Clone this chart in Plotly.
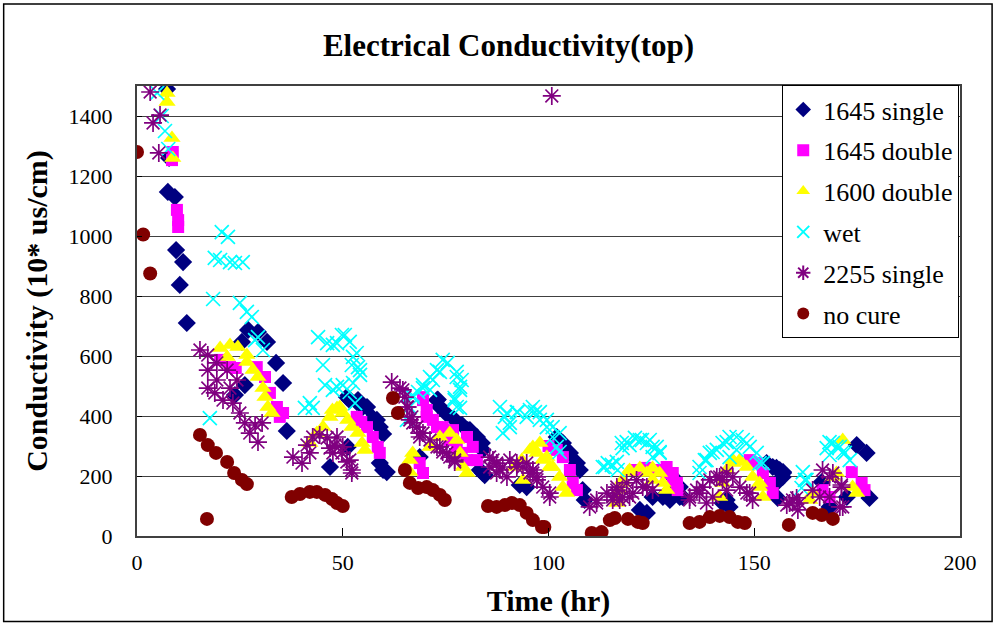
import plotly.graph_objects as go

# ---------------- data (time hr, conductivity 10*us/cm) ----------------
s1645_single_x = [7.3, 7.8, 7.5, 9.2, 9.5, 11.2, 10.4, 12.1, 23.8, 26.2, 25.5, 27.0, 29.4, 31.6, 33.8, 35.5, 36.4,
                  46.9, 51.0, 51.2, 51.7, 53.4, 53.7, 54.9, 55.9, 57.3, 58.3, 59.0, 59.8, 59.0, 59.8, 60.7,
                  68.7, 72.9, 73.1, 73.6, 75.0, 77.0, 79.0, 80.4, 80.9, 81.6, 82.6, 82.8, 83.8, 84.0, 83.3, 84.0, 84.5,
                  93.0, 94.7, 101.0, 102.0, 103.5, 105.2, 106.9, 107.6, 108.3, 108.8,
                  122.2, 123.9, 125.3, 127.8, 129.5, 130.2, 130.2, 131.9, 131.9, 132.6,
                  142.3, 143.3, 144.0, 153.0, 154.5, 155.4, 156.2, 157.0, 156.9, 155.4, 155.7,
                  157.0, 166.4, 168.3, 172.5, 174.9, 177.3, 178.0]
s1645_single_y = [1490, 1260, 1147, 1130, 953, 913, 837, 710, 470, 503, 647, 687, 680, 647, 577, 510, 350,
                  230, 463, 297, 453, 447, 453, 430, 430, 393, 387, 363, 340, 243, 220, 213,
                  263, 453, 455, 430, 410, 390, 370, 353, 353, 330, 330, 310, 310, 287, 220, 210, 203,
                  170, 163, 303, 330, 310, 277, 243, 220, 153, 120,
                  87, 77, 130, 130, 120, 197, 153, 163, 130, 130,
                  110, 120, 97, 243, 230, 227, 220, 213, 197, 177, 127,
                  210, 180, 97, 130, 303, 277, 127]

s1645_double_x = [8.5, 8.7, 9.7, 10.0, 10.0, 20.2, 22.6, 24.0, 29.1, 31.1, 32.3, 34.0, 34.7, 35.5,
                  53.4, 54.5, 55.9, 57.3, 58.5, 59.0,
                  68.7, 69.5, 69.5, 69.5, 70.4, 70.4, 71.9, 72.9, 74.3, 74.3, 76.0, 76.8, 77.7, 78.9, 80.2, 80.2, 81.6, 82.6,
                  100.0, 102.0, 103.5, 105.2, 105.9, 106.9,
                  121.0, 123.9, 126.3, 128.7, 128.7, 130.2, 130.2, 131.2, 131.2, 131.4,
                  148.9, 150.6, 152.1, 153.8, 154.5,
                  166.6, 168.3, 173.7, 176.1, 176.8]
s1645_double_y = [1253, 1280, 1087, 1053, 1030, 587, 563, 560, 563, 530, 477, 430, 397, 410,
                  397, 380, 363, 330, 297, 277,
                  243, 210, 463, 453, 420, 397, 387, 363, 363, 343, 320, 353, 297, 277, 330, 253, 297, 253,
                  300, 287, 263, 220, 177, 153,
                  220, 227, 220, 230, 210, 210, 187, 177, 163, 153,
                  253, 243, 210, 177, 143,
                  153, 130, 213, 177, 153]

s1600_double_x = [7.3, 7.3, 8.5, 8.7, 20.2, 21.9, 22.6, 24.5, 26.7, 26.7, 28.2, 29.4, 30.6, 31.1, 31.8, 32.8,
                  42.0, 43.7, 45.2, 46.9, 47.5, 48.6, 49.3, 50.0, 51.2, 52.2, 53.7, 54.7, 55.4,
                  66.3, 66.3, 67.0, 71.2, 73.6, 76.0, 77.7, 78.5, 79.2, 80.2,
                  91.8, 93.5, 93.8, 95.5, 96.2, 97.2, 97.9, 98.6, 99.6, 100.3, 101.0, 102.7, 103.5, 104.4,
                  116.6, 116.6, 117.3, 118.0, 118.0, 119.3, 119.7, 122.2, 123.9, 125.3, 125.3, 127.0, 127.8, 128.7,
                  141.6, 142.3, 143.3, 144.8, 144.8, 146.5, 146.5, 148.2, 149.6, 151.3, 151.3, 152.1,
                  163.5, 164.2, 169.1, 170.0, 171.5, 173.9, 174.9]
s1600_double_y = [1477, 1447, 1327, 1260, 627, 597, 637, 630, 603, 580, 553, 530, 493, 463, 430, 410,
                  310, 343, 363, 397, 420, 427, 430, 410, 387, 363, 343, 310, 287,
                  253, 213, 277, 297, 330, 343, 320, 277, 230, 210,
                  230, 253, 187, 287, 297, 277, 310, 253, 263, 230, 230, 197, 163, 143,
                  110, 120, 153, 177, 187, 213, 220, 227, 210, 187, 227, 210, 177, 153,
                  130, 177, 220, 243, 253, 253, 247, 230, 197, 177, 163, 130,
                  120, 143, 197, 210, 320, 163, 143]

wet_x = [4.9, 6.0, 6.8, 7.6, 17.7, 18.5, 18.9, 20.2, 20.6, 22.1, 22.6, 23.8, 25.7, 25.0, 26.7, 27.9, 28.7, 29.4, 30.6,
         40.8, 42.0, 42.7, 44.0, 45.2, 45.7, 46.2, 47.6, 47.6, 48.6, 48.6, 49.8, 50.5, 50.0, 51.7, 51.7, 52.2, 52.5,
         52.5, 53.0, 53.4, 53.7, 54.2, 54.2,
         65.6, 66.3, 67.0, 67.0, 68.3, 69.5, 69.5, 71.2, 71.2, 71.9, 72.9, 73.6, 74.3, 75.5, 77.7, 77.7, 78.9, 78.5,
         78.5, 77.2, 77.2, 77.7, 78.5,
         88.2, 88.9, 89.4, 89.9, 90.6, 90.6, 92.3, 92.5, 94.7, 95.5, 96.2, 96.7, 97.9, 97.9, 99.6, 99.6, 101.0, 101.0,
         102.0, 102.7, 102.7,
         113.2, 113.7, 114.4, 115.4, 116.6, 116.8, 117.8, 118.0, 119.0, 119.7, 121.0, 122.2, 122.7, 123.9, 124.6,
         125.3, 125.3, 126.3, 127.0, 127.0,
         136.7, 136.7, 138.0, 138.4, 139.2, 139.9, 140.9, 142.3, 143.3, 144.0, 144.0, 145.7, 145.7, 147.2, 148.2,
         148.9, 150.6, 151.3, 152.1,
         161.5, 161.8, 162.3, 162.7, 167.6, 168.3, 168.3, 169.1, 170.0, 170.8, 171.5, 172.0, 173.2]
wet_y = [1477, 1400, 1350, 1290, 393, 790, 927, 920, 1013, 997, 913, 910, 913, 777, 747, 730, 653, 663, 620,
         427, 443, 427, 663, 570, 503, 643, 637, 487, 643, 497, 670, 670, 503, 647, 480, 570, 597,
         510, 443, 610, 563, 553, 537,
         387, 430, 463, 470, 480, 503, 493, 530, 487, 520, 553, 547, 587, 577, 547, 530, 520, 497,
         487, 460, 453, 430, 427,
         430, 343, 397, 410, 377, 363, 413, 413, 397, 420, 430, 413, 413, 387, 387, 363, 363, 330,
         297, 343, 280,
         230, 230, 243, 237, 247, 220, 310, 293, 313, 303, 327, 320, 320, 310, 320,
         297, 263, 297, 280, 277,
         230, 210, 253, 253, 277, 280, 287, 310, 313, 330, 263, 330, 287, 320, 310,
         297, 277, 243, 243,
         160, 213, 187, 187, 293, 313, 270, 310, 297, 297, 280, 277, 253]

s2255_single_x = [3.2, 3.9, 5.3, 5.6, 15.3, 17.2, 17.2, 17.2, 18.9, 19.4, 19.4, 20.9, 21.9, 22.6, 23.3, 24.3, 25.0,
                  26.2, 27.4, 28.7, 29.4, 30.4,
                  37.9, 40.1, 41.3, 42.0, 42.7, 44.4, 46.2, 46.9, 47.6, 48.1, 48.6, 49.8, 50.0, 51.0, 51.7, 52.2, 52.2,
                  61.9, 63.9, 64.6, 65.1, 65.6, 65.8, 66.3, 66.8, 67.0, 68.0, 68.7, 68.7, 69.5, 71.2, 72.9, 73.6, 74.3,
                  75.3, 76.0, 77.2, 77.2,
                  85.7, 85.7, 86.5, 87.4, 87.4, 88.2, 88.9, 89.9, 90.6, 92.3, 92.3, 93.8, 94.7, 95.5, 96.2, 96.2, 97.2,
                  97.2, 98.6, 100.3, 100.3, 100.8,
                  110.0, 111.7, 111.7, 114.2, 115.6, 115.6, 116.6, 116.6, 117.3, 118.0, 119.0, 119.7, 120.5, 121.4,
                  122.9, 123.9, 125.3,
                  134.3, 134.3, 136.0, 136.7, 137.5, 138.4, 139.2, 139.9, 140.9, 141.6, 142.3, 143.3, 143.3, 144.8,
                  146.5, 148.2, 148.9, 149.6,
                  157.9, 158.6, 159.3, 160.3, 160.6, 161.0, 164.2, 165.9, 166.6, 168.3, 168.3, 169.1, 170.8, 171.2,
                  171.2, 171.5]
s2255_single_y = [1480, 1377, 1277, 1403, 620, 603, 553, 493, 477, 577, 520, 453, 553, 493, 443, 520, 410,
                  377, 343, 370, 313, 377,
                  263, 243, 303, 277, 330, 337, 327, 293, 277, 303, 330, 277, 297, 247, 253, 220, 210,
                  513, 493, 487, 463, 430, 430, 387, 397, 377, 363, 343, 330, 343, 320, 297, 297, 280,
                  277, 263, 253, 247,
                  263, 230, 253, 243, 210, 220, 230, 197, 253, 243, 230, 230, 243, 210, 210, 220, 187,
                  197, 163, 143, 130, 1467,
                  97, 120, 110, 143, 130, 120, 163, 153, 120, 130, 177, 130, 143, 187,
                  163, 163, 153,
                  120, 130, 153, 143, 163, 110, 187, 130, 197, 197, 187, 153, 210, 197,
                  163, 143, 143, 120,
                  103, 110, 120, 127, 87, 110, 153, 130, 220, 130, 197, 210, 97, 170,
                  163, 97]

no_cure_x = [0.0, 1.5, 3.2, 15.3, 17.0, 17.2, 19.2, 21.9, 23.6, 25.5, 26.7,
             37.6, 39.6, 42.0, 43.7, 45.7, 47.4, 48.6, 50.0,
             62.2, 63.4, 65.1, 66.3, 68.3, 70.4, 71.9, 73.6, 74.8,
             85.3, 87.4, 89.4, 91.1, 93.0, 94.7, 96.2, 98.4, 99.0,
             110.5, 112.9, 114.9, 116.1, 119.3, 121.7, 122.9,
             134.3, 136.7, 139.2, 141.6, 144.0, 146.0, 147.7,
             158.4, 164.2, 166.4, 169.1]
no_cure_y = [1280, 1005, 875, 337, 57, 303, 277, 247, 210, 187, 173,
             130, 140, 147, 147, 137, 123, 110, 100,
             460, 410, 220, 177, 160, 163, 153, 137, 120,
             100, 97, 103, 110, 103, 77, 53, 30, 30,
             10, 13, 53, 60, 57, 47, 43,
             43, 47, 63, 67, 63, 47, 43,
             37, 77, 70, 57]

x_ticks = [0, 50, 100, 150, 200]
y_ticks = [0, 200, 400, 600, 800, 1000, 1200, 1400]

# ---------------- figure ----------------
FONT = "Liberation Serif, Times New Roman, serif"
fig = go.Figure()

series = [
    ("1645 single", s1645_single_x, s1645_single_y, dict(symbol="diamond", size=14, color="#000080")),
    ("1645 double", s1645_double_x, s1645_double_y, dict(symbol="square", size=12, color="#FF00FF")),
    ("1600 double", s1600_double_x, s1600_double_y, dict(symbol="triangle-up", size=15, color="#FFFF00")),
    ("wet", wet_x, wet_y, dict(symbol="x-thin-open", size=14, color="#00FFFF", line=dict(color="#00FFFF", width=1.7))),
    ("2255 single", s2255_single_x, s2255_single_y, dict(symbol="asterisk-open", size=15, color="#800080", line=dict(color="#800080", width=1.7))),
    ("no cure", no_cure_x, no_cure_y, dict(symbol="circle", size=14, color="#800000")),
]
for name, xs, ys, mk in series:
    fig.add_trace(go.Scatter(x=xs, y=ys, mode="markers", name=name, legendgroup=name, marker=mk))

fig.update_layout(
    width=999, height=627,
    paper_bgcolor="white", plot_bgcolor="white",
    margin=dict(l=137, r=39, t=86, b=91),
    font=dict(family=FONT, color="black"),
    title=dict(text="<b>Electrical Conductivity(top)</b>", x=0.509, xref="container", xanchor="center",
               y=1 - 45 / 627, yref="container", yanchor="middle", font=dict(family=FONT, size=31)),
    legend=dict(x=0.784, y=1.002, xanchor="left", yanchor="top", bgcolor="white",
                bordercolor="black", borderwidth=1, font=dict(family=FONT, size=26),
                tracegroupgap=4, itemsizing="constant"),
    showlegend=True,
)
fig.update_xaxes(range=[0, 200], tickvals=x_ticks, ticks="inside", ticklen=8, tickcolor="black",
                 showline=True, linecolor="#404040", linewidth=2, mirror=True, showgrid=False, zeroline=False,
                 tickfont=dict(family=FONT, size=22), ticklabelstandoff=6,
                 title=dict(text="<b>Time (hr)</b>", font=dict(family=FONT, size=30), standoff=16))
fig.update_yaxes(range=[0, 1500], tickvals=y_ticks, ticks="inside", ticklen=5, tickcolor="black",
                 showline=True, linecolor="#404040", linewidth=2, mirror=True, showgrid=True,
                 gridcolor="#404040", gridwidth=1, zeroline=False,
                 tickfont=dict(family=FONT, size=22), ticklabelstandoff=18,
                 title=dict(text="<b>Conductivity (10* us/cm)</b>", font=dict(family=FONT, size=30), standoff=12))

# outer chart border
fig.add_shape(type="rect", xref="paper", yref="paper", x0=-0.162, x1=1.039, y0=-0.19, y1=1.182,
              line=dict(color="black", width=1.5), fillcolor="rgba(0,0,0,0)", layer="below")

fig.write_html("out.html")
